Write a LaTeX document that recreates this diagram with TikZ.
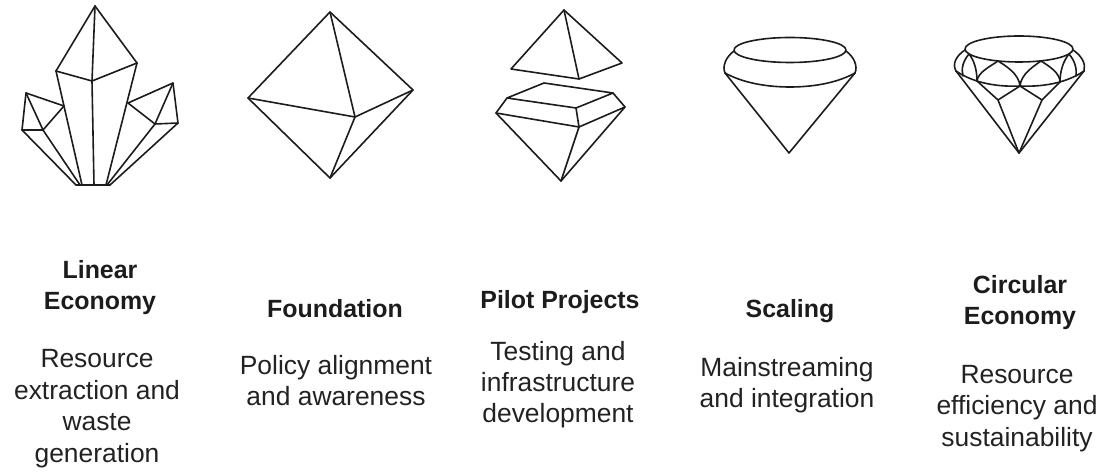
\documentclass[tikz,border=0pt]{standalone}
\usepackage{fontspec}
\setmainfont{Liberation Sans}
\definecolor{ink}{HTML}{1C1C1C}
\definecolor{ink2}{HTML}{222222}
\tikzset{
  gem/.style={draw=ink, line width=1.6bp, line join=round, line cap=round},
  ttl/.style={font=\bfseries\fontsize{25}{32}\selectfont, align=center, anchor=base, inner sep=0pt, text=ink},
  dsc/.style={font=\fontsize{26.5}{31.5}\selectfont, align=center, anchor=base, inner sep=0pt, text=ink2}
}
\begin{document}
\begin{tikzpicture}[x=1bp,y=-1bp]
\useasboundingbox (0,0) rectangle (1099,472);
% ---------- Linear economy: crystal cluster
\draw[gem] (56,71) -- (95,6) -- (137,63);
\draw[gem] (95,6) -- (92,81) -- (94,185);
\draw[gem] (56,71) -- (92,81) -- (137,63);
\draw[gem] (56,71) -- (82,185);
\draw[gem] (137,63) -- (106,185);
\draw[gem] (76,185) -- (110,185);
\draw[gem] (64,106) -- (26,93) -- (22,130) -- (43,130) -- (64,106);
\draw[gem] (26,93) -- (43,130);
\draw[gem] (22,130) -- (76,185);
\draw[gem] (43,130) -- (80,185);
\draw[gem] (128,103) -- (173,83) -- (178,123) -- (155,124) -- cycle;
\draw[gem] (173,83) -- (155,124);
\draw[gem] (155,124) -- (107,185);
\draw[gem] (178,123) -- (110,185);
% ---------- Foundation: octahedron
\draw[gem] (330,12) -- (413,90) -- (330,178) -- (248,98) -- cycle;
\draw[gem] (330,12) -- (355,117) -- (330,178);
\draw[gem] (248,98) -- (355,117) -- (413,90);
% ---------- Pilot projects: split gem
\draw[gem] (564,10) -- (622,63) -- (579,79) -- (511,69) -- cycle;
\draw[gem] (564,10) -- (579,79);
\draw[gem] (544,83) -- (613,93) -- (576,108) -- (507,98) -- cycle;
\draw[gem] (507,98) -- (496,113) -- (561,181) -- (625,107) -- (613,93);
\draw[gem] (496,113) -- (579,127) -- (625,107);
\draw[gem] (576,108) -- (579,127) -- (561,181);
% ---------- Scaling: rounded gem
\draw[gem] (790,50) ellipse [x radius=56bp, y radius=12.5bp];
\draw[gem] (734,51) .. controls (726,57) and (722,66) .. (725,73);
\draw[gem] (846,51) .. controls (854,57) and (858,66) .. (855,73);
\draw[gem] (725,73) .. controls (745,84) and (770,87) .. (790,87) .. controls (810,87) and (835,84) .. (855,73);
\draw[gem] (725,73) -- (789,153) -- (855,73);
% ---------- Circular economy: brilliant diamond
\draw[gem] (1019,49) ellipse [x radius=54bp, y radius=13bp];
\draw[gem] (965,50) .. controls (956,56) and (952,64) .. (956,71);
\draw[gem] (1073,50) .. controls (1082,56) and (1086,64) .. (1084,71);
\draw[gem] (956,71) .. controls (975,84) and (1000,87) .. (1020,86) .. controls (1040,87) and (1065,84) .. (1084,71);
\draw[gem] (969,54) .. controls (963,61) and (961,69) .. (963,76);
\draw[gem] (1069,54) .. controls (1075,61) and (1077,69) .. (1076,76);
\draw[gem] (969,54) .. controls (974,60) and (977,70) .. (977,81);
\draw[gem] (1069,54) .. controls (1064,60) and (1060,70) .. (1060,82);
\draw[gem] (977,81) .. controls (978,72) and (991,66) .. (998,61) .. controls (1006,66) and (1019,74) .. (1020,86);
\draw[gem] (1020,86) .. controls (1021,74) and (1034,66) .. (1041,61) .. controls (1049,66) and (1060,73) .. (1060,82);
\draw[gem] (956,71) -- (1019,153) -- (1084,71);
\draw[gem] (977,81) -- (998,100) -- (1020,86) -- (1042,100) -- (1060,82);
\draw[gem] (998,100) -- (1019,153) -- (1042,100);
% ---------- texts (anchor = baseline of last line)
\node[ttl] (t1) at (100,310) {Linear\\Economy};
\node[dsc] (d1) at (97,462) {Resource\\extraction and\\waste\\generation};
\node[ttl] (t2) at (335,318) {Foundation};
\node[dsc] (d2) at (336,406) {Policy alignment\\and awareness};
\node[ttl] (t3) at (560,309) {Pilot Projects};
\node[dsc] (d3) at (558,423) {Testing and\\infrastructure\\development};
\node[ttl] (t4) at (790,318) {Scaling};
\node[dsc] (d4) at (787,408) {Mainstreaming\\and integration};
\node[ttl] (t5) at (1020,325) {Circular\\Economy};
\node[dsc] (d5) at (1017,446) {Resource\\efficiency and\\sustainability};
\end{tikzpicture}
\end{document}
